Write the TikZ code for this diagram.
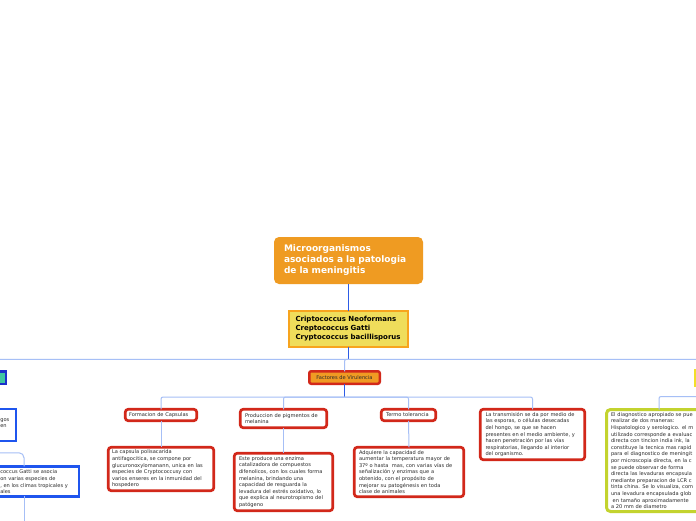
\documentclass[tikz,border=0pt]{standalone}
\usepackage{fontspec}
\setmainfont{DejaVu Sans}
\definecolor{rootor}{HTML}{EF9B22}
\definecolor{ylwf}{HTML}{EFDD5B}
\definecolor{ylwbd}{HTML}{F7A41E}
\definecolor{redbd}{HTML}{D2281A}
\definecolor{fvfill}{HTML}{F09A23}
\definecolor{dkblue}{HTML}{2D5CE6}
\definecolor{ltblue}{HTML}{A6BFF6}
\definecolor{bluebd}{HTML}{1F55EE}
\definecolor{tealf}{HTML}{3FC6A2}
\definecolor{navybd}{HTML}{1C2FCB}
\definecolor{grnbd}{HTML}{C3D32F}
\definecolor{yelnode}{HTML}{F2DF2A}
\definecolor{txt}{HTML}{2A2A2A}
\begin{document}
\begin{tikzpicture}[x=1pt,y=-1pt,
  base/.style={inner sep=0pt, outer sep=0pt},
  smallfont/.style={font=\fontsize{5.1pt}{6.6pt}\selectfont},
  redbox/.style={base, smallfont, draw=redbd, line width=2.7pt, rounded corners=3pt, fill=white, text=txt, align=left},
  bluebox/.style={base, draw=bluebd, line width=2.5pt, fill=white},
  greenbox/.style={base, smallfont, draw=grnbd, line width=3pt, rounded corners=4pt, fill=white, text=txt, align=left},
  plaintext/.style={base, smallfont, text=txt, align=left},
  dk/.style={draw=dkblue, line width=1pt},
  lt/.style={draw=ltblue, line width=1pt, rounded corners=2pt},
  ltcurve/.style={draw=ltblue, line width=1pt, rounded corners=5pt}
]
\useasboundingbox (0,0) rectangle (696,520);
\clip (0,0) rectangle (696,520);
\fill[white] (0,0) rectangle (696,520);

% main nodes
\node[base, fill=rootor, rounded corners=5pt, minimum width=149pt, minimum height=47pt,
      text width=129pt, align=left, text=white, font=\fontsize{9pt}{11pt}\selectfont\bfseries]
  (root) at (348.5,260.5) {Microorganismos\\asociados a la patologia\\de la meningitis};

\node[base, fill=ylwf, draw=ylwbd, line width=2pt, minimum width=119pt, minimum height=36pt,
      text width=106pt, align=left, text=black, font=\fontsize{7pt}{9pt}\selectfont\bfseries]
  (spec) at (348.5,329) {Criptococcus Neoformans\\Creptococcus Gatti\\Cryptococcus bacillisporus};

\node[base, smallfont, fill=fvfill, draw=redbd, line width=2.5pt, rounded corners=2pt,
      minimum width=70.5pt, minimum height=12.5pt, text=txt]
  (fv) at (344.5,377.5) {Factores de Virulencia};

% children of Factores
\node[redbox, minimum width=71.5pt, minimum height=11.5pt, text width=64pt]
  (caps) at (161,415) {Formacion de Capsulas};
\node[redbox, minimum width=86.5pt, minimum height=18.5pt, text width=77pt]
  (pigm) at (283.5,418.5) {Produccion de pigmentos de\\melanina};
\node[redbox, minimum width=54.5pt, minimum height=11.5pt, text width=45pt]
  (termo) at (408.5,415) {Termo tolerancia};
\node[redbox, minimum width=104.5pt, minimum height=50.5pt, text width=94pt]
  (trans) at (532.5,434.5) {La transmisión se da por medio de\\las esporas, o células desecadas\\del hongo, se que se hacen\\presentes en el medio ambiente, y\\hacen penetración por las vías\\respiratorias, llegando al interior\\del organismo.};

% grandchildren
\node[redbox, minimum width=105.5pt, minimum height=43.5pt, text width=98pt]
  (capsd) at (161,469) {La capsula polisacarida\\antifagocitica, se compone por\\glucuronoxylomanann, unica en las\\especies de Cryptococcusy con\\varios enseres en la inmunidad del\\hospedero};
\node[redbox, minimum width=98.5pt, minimum height=57.5pt, text width=89pt]
  (pigmd) at (283.5,482) {Este produce una enzima\\catalizadora de compuestos\\difenolicos, con los cuales forma\\melanina, brindando una\\capacidad de resguarda la\\levadura del estrés oxidativo, lo\\que explica al neurotropismo del\\patógeno};
\node[redbox, minimum width=109.5pt, minimum height=49.5pt, text width=100pt]
  (termod) at (409,472) {Adquiere la capacidad de\\aumentar la temperatura mayor de\\37º o hasta \ mas, con varias vías de\\señalización y enzimas que a\\obtenido, con el propósito de\\mejorar su patogénesis en toda\\clase de animales};

% right side
\node[base, fill=yelnode, draw=yelnode, line width=1pt, minimum width=90pt, minimum height=17pt]
  (diag) at (739.5,378) {};
\node[greenbox, minimum width=105pt, minimum height=102pt, text width=96pt]
  (diagd) at (659,460.5) {El diagnostico apropiado se pue\\realizar de dos maneras:\\Hispatologico y serologico. el m\\utilizado corresponde a evaluac\\directa con tincion india ink, la\\constituye la tecnica mas rapid\\para el diagnostico de meningit\\por microscopia directa, en la c\\se puede observar de forma\\directa las levaduras encapsula\\mediante preparacion de LCR c\\tinta china. Se lo visualiza, com\\una levadura encapsulada glob\\\ en tamaño aproximadamente\\a 20 mm de diametro};

% left side
\node[base, fill=tealf, draw=navybd, line width=2.5pt, minimum width=74.5pt, minimum height=12.5pt]
  (teal) at (-31.5,377.5) {};
\node[bluebox, minimum width=114.5pt, minimum height=32pt] (hab) at (-41.5,424.75) {};
\node[plaintext, anchor=north west] (habt) at (0.3,418.5) {gos\\en};
\node[bluebox, minimum width=109.5pt, minimum height=30pt] (gatti) at (24,481.25) {};
\node[plaintext, anchor=north west] (gattit) at (0.3,470) {coccus Gatti se asocia\\on varias especies de\\, en los climas tropicales y\\ales};
\coordinate (gattikid) at (24,540);

% connectors
\coordinate (specbus) at (348.5,359.3);
\coordinate (fvbus) at (344.5,397);
\draw[dk] (root.south) -- (spec.north);
\draw[dk] (spec.south) -- (specbus);
\draw[lt] (specbus) -| (teal.north);
\draw[lt] (specbus) -| (fv.north);
\draw[lt] (specbus) -| (diag.north);
\draw[dk] (fv.south) -- (fvbus);
\draw[lt] (fvbus) -| (caps.north);
\draw[lt] (fvbus) -| (pigm.north);
\draw[lt] (fvbus) -| (termo.north);
\draw[lt] (fvbus) -| (trans.north);
\draw[lt] (caps.south) -- (capsd.north);
\draw[lt] (pigm.south) -- (pigmd.north);
\draw[lt] (termo.south) -- (termod.north);
\draw[lt] (diag.south) -- ++(0,10) -| (diagd.north);
\draw[lt] (teal.south) -- ++(0,11) -| (hab.north);
\draw[ltcurve] (hab.south) -- ++(0,12) -| (gatti.north);
\draw[lt] (gatti.south) -- (gattikid);
\end{tikzpicture}
\end{document}
